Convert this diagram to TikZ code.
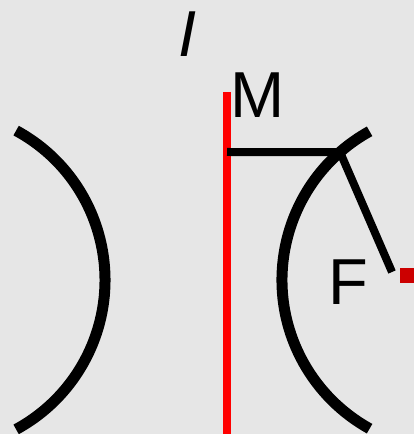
\documentclass[tikz,border=0pt]{standalone}
\usepackage{fontspec}
\setmainfont{Liberation Sans}
\usetikzlibrary{calc}
\definecolor{bggray}{HTML}{E6E6E6}
\definecolor{axisred}{HTML}{FF0000}
\definecolor{dotred}{HTML}{CC0000}
\tikzset{
  mir/.style  ={draw=black, line width=11pt},
  ray/.style  ={draw=black, line width=8pt},
  axs/.style  ={draw=axisred, line width=8pt},
  lbl/.style  ={inner sep=0pt, anchor=base west,
                font=\fontsize{65}{65}\selectfont},
  pt/.style   ={fill=dotred, minimum size=15pt, inner sep=0pt}
}
\begin{document}
\begin{tikzpicture}[x=1pt, y=1pt]
\fill[bggray] (0,0) rectangle (414,434);
\useasboundingbox (0,0) rectangle (414,434);

% the two mirrors
\coordinate (lc) at (-65,154);
\coordinate (rc) at (452,154);
\draw[mir] ($(lc)+(61.5:170)$) arc (61.5:-61.5:170);
\draw[mir] ($(rc)+(119:170)$) arc (119:241:170);

% axis and ray
\coordinate (axtop) at (227,342);
\coordinate (axbot) at (227,0);
\draw[axs] (axtop) -- (axbot);
\coordinate (start) at (227,282);
\coordinate (hit) at ($(rc)+(131.2:170)$);
\coordinate (tail) at (392,162);
\draw[ray] (start) -- (hit);
\draw[ray] (hit) -- (tail);

\node[pt] (dot) at (407.5,158.5) {};

% labels
\node[lbl] (lblI) at (178,377) {\itshape I};
\node[lbl] (lblM) at (230,316) {M};
\node[lbl] (lblF) at (328,129) {F};
\end{tikzpicture}
\end{document}
